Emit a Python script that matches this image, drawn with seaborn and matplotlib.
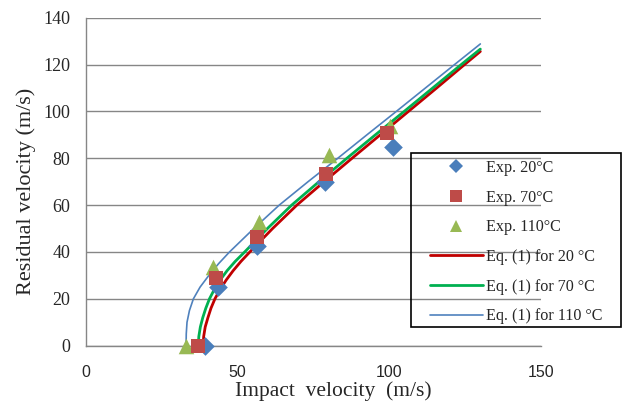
import matplotlib
matplotlib.use("Agg")
import matplotlib.pyplot as plt
import seaborn as sns
import pandas as pd
from matplotlib.lines import Line2D
from matplotlib.patches import Rectangle

# Experimental points
exp20_x = [39.2, 43.6, 56.5, 78.8, 101.1]
exp20_y = [0.0, 25.0, 42.4, 69.9, 84.8]
exp70_x = [36.9, 42.9, 56.3, 79.1, 99.1]
exp70_y = [0.0, 28.9, 46.4, 73.3, 90.8]
exp110_x = [33.0, 42.0, 56.9, 80.1, 100.2]
exp110_y = [0.0, 33.8, 52.6, 81.5, 93.9]

# Model curves
eq20_x = [38.6, 38.8, 39.3, 40.2, 41.2, 42.5, 44.2, 46.2, 48.5, 51.1, 54.0, 61.5, 69.5, 78.5, 87.7, 97.0, 106.3, 115.6, 124.8, 130.0]
eq20_y = [0, 4, 8, 12, 16, 20, 24, 28, 32, 36, 40, 50, 60, 70, 80, 90, 100, 110, 120, 125.6]
eq70_x = [37.0, 37.2, 37.7, 38.5, 39.5, 40.7, 42.3, 44.2, 46.5, 49.2, 52.3, 59.8, 67.8, 76.8, 86.0, 95.4, 104.9, 114.3, 123.7, 130.0]
eq70_y = [0, 4, 8, 12, 16, 20, 24, 28, 32, 36, 40, 50, 60, 70, 80, 90, 100, 110, 120, 126.6]
eq110_x = [33.0, 33.05, 33.3, 34.1, 35.4, 37.6, 40.5, 43.7, 47.3, 55.3, 63.7, 73.2, 83.0, 92.6, 102.3, 111.9, 121.5, 130.0]
eq110_y = [0, 5, 10, 15, 20, 25, 30, 35, 40, 50, 60, 70, 80, 90, 100, 110, 120, 128.8]

labels_exp = ["Exp. 20°C", "Exp. 70°C", "Exp. 110°C"]
labels_eq = ["Eq. (1) for 20 °C", "Eq. (1) for 70 °C", "Eq. (1) for 110 °C"]
xticks = [0, 50, 100, 150]
yticks = [0, 20, 40, 60, 80, 100, 120, 140]

sns.set_theme(style="white")
plt.rcParams['font.family'] = ['Liberation Serif', 'DejaVu Serif']

W, H = 623, 405
fig = plt.figure(figsize=(W / 100, H / 100), dpi=100)
ax = fig.add_axes([86 / W, 1 - 345.7 / H, 455 / W, 328 / H])

grid_c = "#868686"
c_red, c_green, c_blue = "#C00000", "#00B050", "#4F81BD"
m_blue, m_red, m_green = "#4A7EBB", "#BE4B48", "#98B954"

for xs, ys, c, lw in [(eq20_x, eq20_y, c_red, 2.0), (eq70_x, eq70_y, c_green, 2.0), (eq110_x, eq110_y, c_blue, 1.2)]:
    df = pd.DataFrame({"x": xs, "y": ys})
    sns.lineplot(data=df, x="x", y="y", ax=ax, color=c, linewidth=lw, sort=False,
                 estimator=None, zorder=3, legend=False)

for xs, ys, c, m, s, z in [(exp110_x, exp110_y, m_green, "^", 125, 4),
                           (exp20_x, exp20_y, m_blue, "D", 90, 5),
                           (exp70_x, exp70_y, m_red, "s", 100, 6)]:
    df = pd.DataFrame({"x": xs, "y": ys})
    sns.scatterplot(data=df, x="x", y="y", ax=ax, color=c, marker=m, s=s,
                    linewidth=0, zorder=z, legend=False, clip_on=False)

ax.set_xlim(0, 150)
ax.set_ylim(0, 140)
ax.set_xticks(xticks)
ax.set_yticks(yticks)
ax.set_xticklabels([str(t) for t in xticks], family=['Liberation Sans', 'DejaVu Sans'], fontsize=11.5)
ax.set_yticklabels([str(t) for t in yticks], fontsize=13)
ax.tick_params(axis='both', length=0)
ax.tick_params(axis='x', pad=14)
ax.tick_params(axis='y', pad=11.5)
ax.grid(axis='y', color=grid_c, linewidth=1.0)
ax.set_axisbelow(True)
for side in ['top', 'right']:
    ax.spines[side].set_visible(False)
for side in ['left', 'bottom']:
    ax.spines[side].set_color(grid_c)
    ax.spines[side].set_linewidth(1.0)

ax.set_xlabel("Impact  velocity  (m/s)", fontsize=15.5)
ax.set_ylabel("Residual velocity (m/s)", fontsize=16)
ax.xaxis.set_label_coords((333 - 86) / 455, (345.7 - 381) / 328)
ax.yaxis.set_label_coords((36 - 86) / 455, (345.7 - 191.5) / 328)

handles = [
    Line2D([], [], linestyle='none', marker='D', color=m_blue, markersize=7, markeredgewidth=0),
    Line2D([], [], linestyle='none', marker='s', color=m_red, markersize=8.5, markeredgewidth=0),
    Line2D([], [], linestyle='none', marker='^', color=m_green, markersize=9, markeredgewidth=0),
    Line2D([], [], color=c_red, linewidth=2.0),
    Line2D([], [], color=c_green, linewidth=2.0),
    Line2D([], [], color=c_blue, linewidth=1.2),
]
fs = 11.6
leg = fig.legend(handles, labels_exp + labels_eq, loc='upper left',
                 bbox_to_anchor=(430 / W, 1 - 160 / H), fontsize=fs, frameon=False,
                 handlelength=52.7 / (fs * 100 / 72), handletextpad=0.2, borderpad=0,
                 labelspacing=0.85, borderaxespad=0)
fig.add_artist(Rectangle((411 / W, 1 - 327.3 / H), 210 / W, 174 / H,
                         transform=fig.transFigure, fill=False, edgecolor='black',
                         linewidth=1.2, zorder=10))

fig.savefig("out.png", dpi=100)
